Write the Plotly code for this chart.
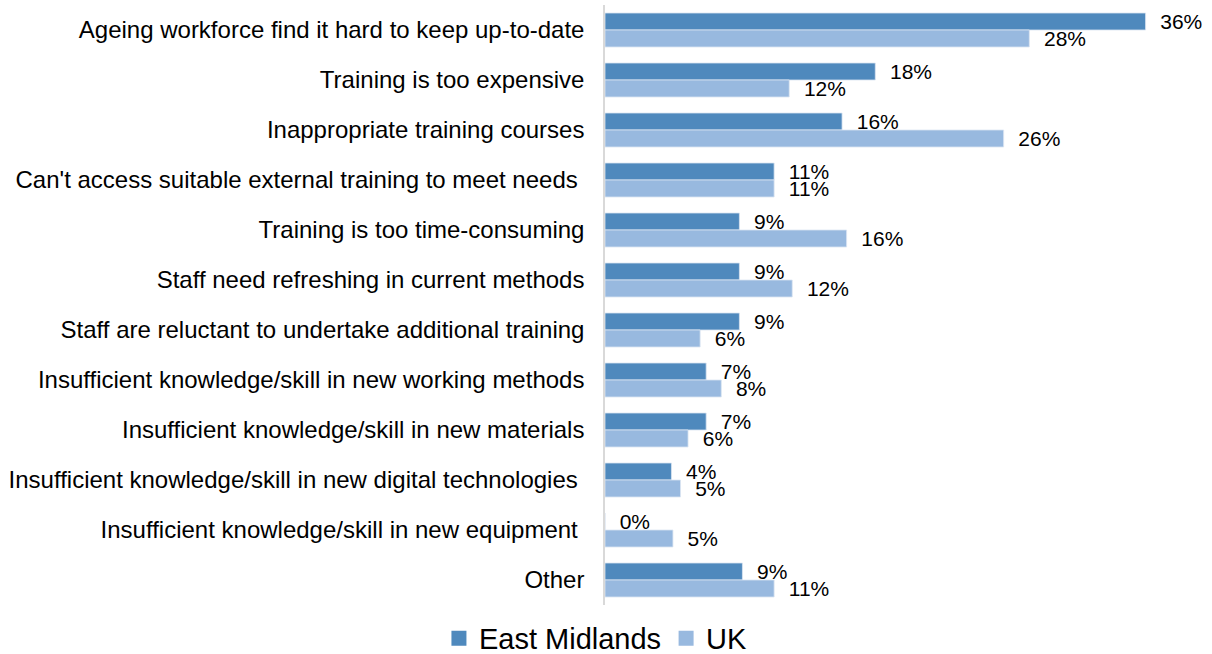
import plotly.graph_objects as go

categories = [
    "Ageing workforce find it hard to keep up-to-date",
    "Training is too expensive",
    "Inappropriate training courses",
    "Can't access suitable external training to meet needs\u00a0",
    "Training is too time-consuming",
    "Staff need refreshing in current methods",
    "Staff are reluctant to undertake additional training",
    "Insufficient knowledge/skill in new working methods",
    "Insufficient knowledge/skill in new materials",
    "Insufficient knowledge/skill in new digital technologies\u00a0",
    "Insufficient knowledge/skill in new equipment\u00a0",
    "Other",
]
east_midlands = [35.8, 17.9, 15.7, 11.2, 8.9, 8.9, 8.9, 6.7, 6.7, 4.4, 0.0, 9.1]
uk = [28.1, 12.2, 26.4, 11.2, 16.0, 12.4, 6.3, 7.7, 5.5, 5.0, 4.5, 11.2]
series_names = ["East Midlands", "UK"]

em_color = "#4F89BD"
uk_color = "#98B9DF"
FONT = "Liberation Sans, Arial, sans-serif"


def labels(vals):
    return ["\u00a0\u00a0%d%%" % int(v + 0.5) for v in vals]


fig = go.Figure()
for name, vals, col in [(series_names[0], east_midlands, em_color),
                        (series_names[1], uk, uk_color)]:
    fig.add_trace(go.Bar(
        name=name, y=categories, x=vals, orientation="h",
        marker=dict(color=col, line=dict(color="#dbe5f1", width=0.8)),
        text=labels(vals), textposition="outside",
        textfont=dict(family=FONT, size=21, color="#000000"),
        cliponaxis=False, constraintext="none", showlegend=False,
    ))
# legend entries with larger square swatches
for name, col in [(series_names[0], em_color), (series_names[1], uk_color)]:
    fig.add_trace(go.Scatter(
        name=name, x=[None], y=[None], mode="markers",
        marker=dict(symbol="square", size=15, color=col), showlegend=True,
    ))

fig.update_layout(
    width=1212, height=654,
    margin=dict(l=605, r=3, t=5, b=49, autoexpand=False),
    paper_bgcolor="white", plot_bgcolor="white",
    barmode="group", bargap=0.32, bargroupgap=0,
    font=dict(family=FONT, color="#000000"),
    xaxis=dict(range=[0, 40], showticklabels=False, showgrid=False,
               zeroline=False, showline=False, ticks="", automargin=False),
    yaxis=dict(autorange="reversed", showgrid=False, zeroline=False,
               showline=True, linecolor="#d9d9d9", linewidth=1.5,
               ticks="outside", ticklen=14, tickcolor="rgba(0,0,0,0)",
               tickfont=dict(size=24, color="#000000"), automargin=False,
               categoryorder="array", categoryarray=categories),
    legend=dict(orientation="h", x=-0.015, xanchor="center", y=-0.013,
                yanchor="top", font=dict(size=29, color="#000000"),
                itemwidth=30, traceorder="normal"),
    showlegend=True,
)

fig.write_html("out.html", config={"displayModeBar": False},
               post_script="document.body.style.margin='0';document.body.style.overflow='hidden';")
